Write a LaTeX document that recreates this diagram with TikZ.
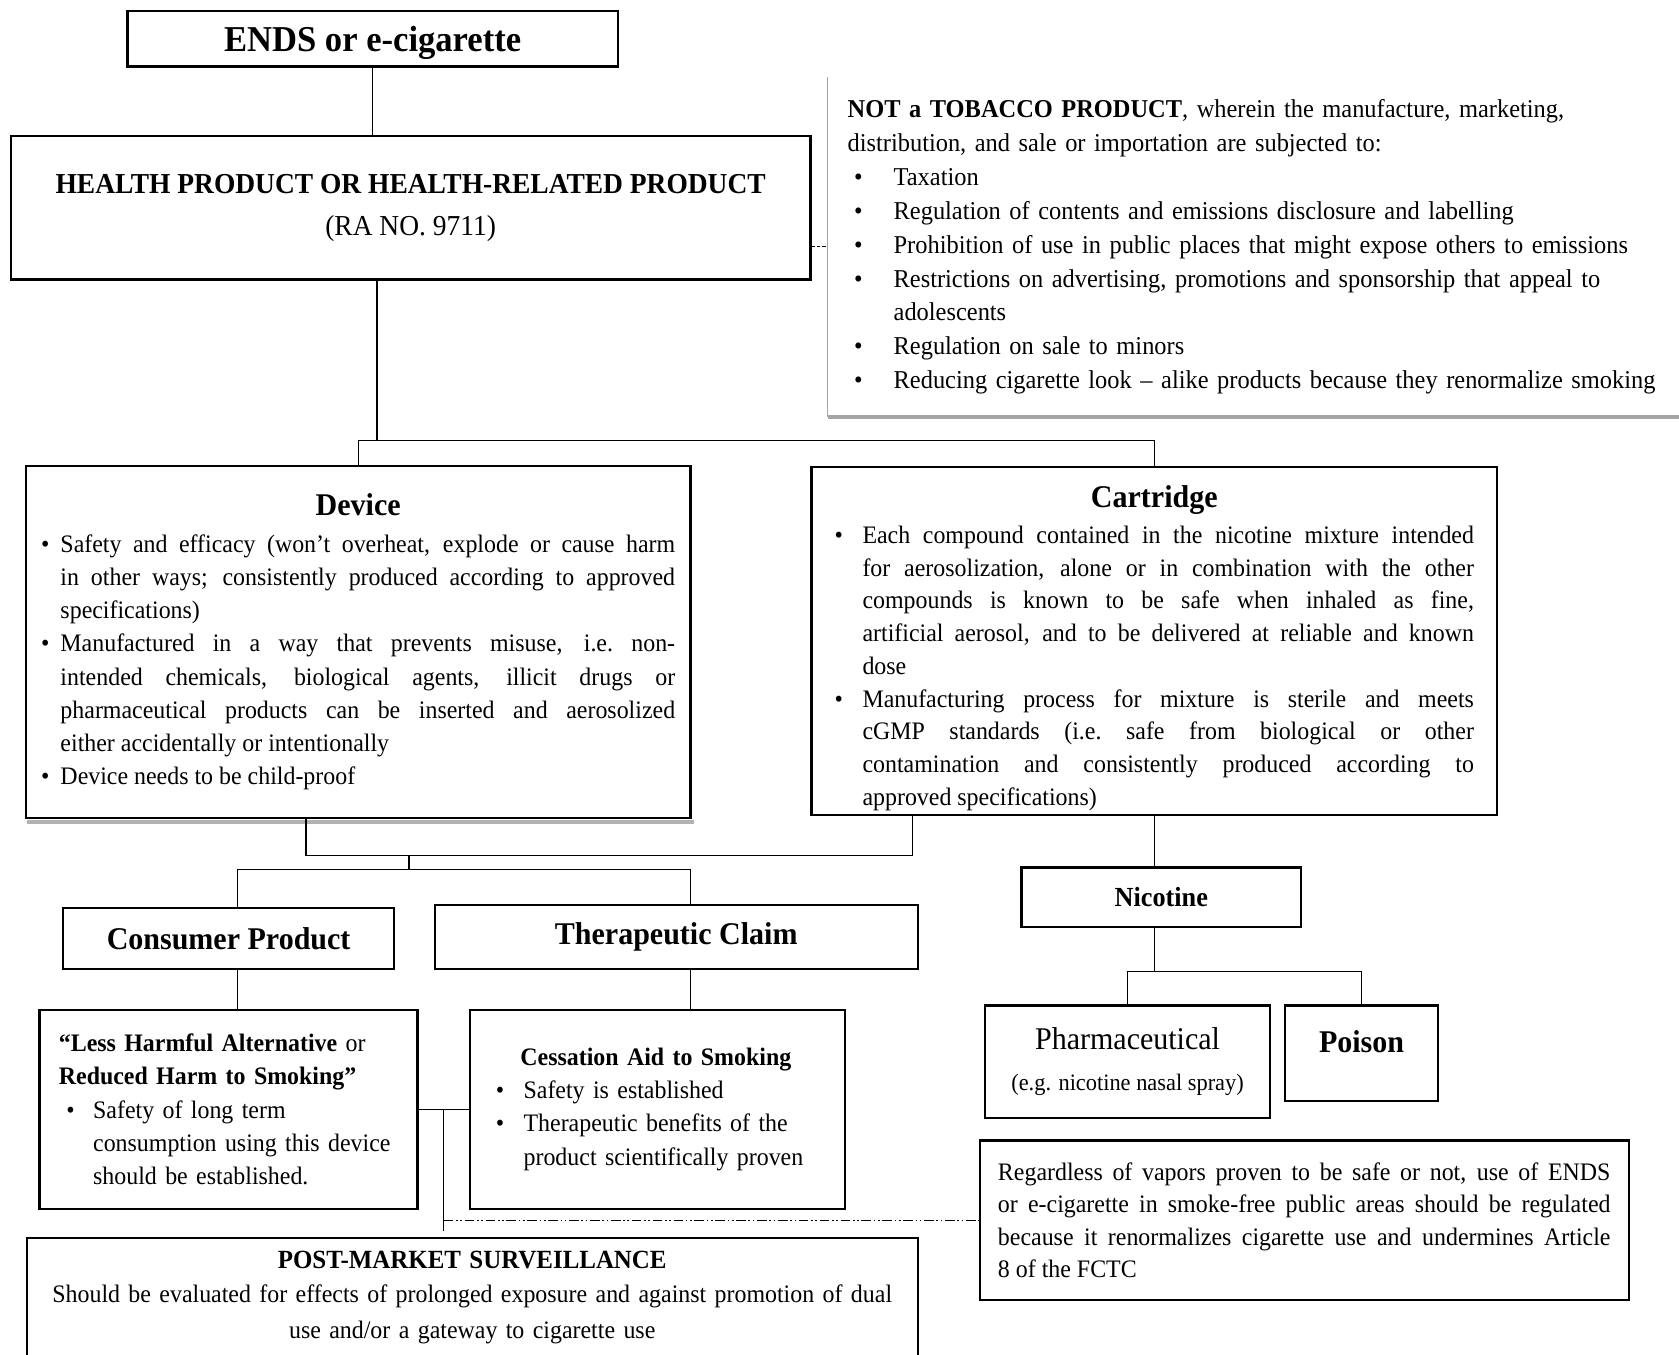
\documentclass[tikz,border=0pt]{standalone}
\usepackage{fontspec}
\setmainfont{Liberation Serif}[FakeStretch=0.95]
\usetikzlibrary{calc}
\setlength{\parindent}{0pt}
\newcommand{\fs}[2]{\fontsize{#1}{#2}\selectfont}
\newcommand{\bitem}[2][0pt]{\par\noindent\hangindent=#2\hangafter=1\hspace*{#1}\makebox[\dimexpr#2-#1\relax][l]{\textbullet}}

\begin{document}
\begin{tikzpicture}[x=1pt,y=-1pt,line width=1.2pt,
  box/.style={draw,fill=white,line width=2.2pt,inner sep=0pt,align=center},
  txt/.style={font=\fs{23.5}{31}},
  dashdot/.style={line width=1pt,dash pattern=on 9pt off 2.5pt on 1.5pt off 2.5pt on 1.5pt off 2.5pt}]
      \useasboundingbox (0,0) rectangle (1568,1265);
      \node (ends) [box,minimum width=458pt,minimum height=52pt,text depth=0pt,font=\bfseries\fs{34}{38}] at (348,36) {ENDS or e-cigarette};
      \node (health) [box,minimum width=747pt,minimum height=134pt,font=\fs{27}{39}] at (383.5,194) {{\bfseries HEALTH PRODUCT OR HEALTH-RELATED PRODUCT}\\{(RA NO. 9711)}};
      \node (nottob) [anchor=north west,inner xsep=18pt,inner ysep=0pt,minimum height=316pt,text width=790pt,align=left,font=\fs{24}{31.6}] at (773,72) {\textbf{NOT a TOBACCO PRODUCT}, wherein the manufacture, marketing,\newline
        distribution, and sale or importation are subjected to:
        \bitem[6pt]{43pt}Taxation
        \bitem[6pt]{43pt}Regulation of contents and emissions disclosure and labelling
        \bitem[6pt]{43pt}Prohibition of use in public places that might expose others to emissions
        \bitem[6pt]{43pt}Restrictions on advertising, promotions and sponsorship that appeal to\newline adolescents
        \bitem[6pt]{43pt}Regulation on sale to minors
        \bitem[6pt]{43pt}Reducing cigarette look – alike products because they renormalize smoking\par};
      \node (device) [box,minimum width=621pt,minimum height=329pt,text width=592pt,align=justify,txt] at (334.5,599.5) {{\centering\bfseries\fs{29.5}{34}Device\par}\vspace{3pt}
        \bitem{18pt}Safety and efficacy (won’t overheat, explode or cause harm\linebreak in other ways; consistently produced according to approved\linebreak specifications)
        \bitem{18pt}Manufactured in a way that prevents misuse, i.e.\ non-\linebreak intended chemicals, biological agents, illicit drugs or\linebreak pharmaceutical products can be inserted and aerosolized\linebreak either accidentally or intentionally
        \bitem{18pt}Device needs to be child-proof\par};
      \node (cart) [box,minimum width=640pt,minimum height=325pt,text width=597pt,align=justify,font=\fs{23.5}{30.6}] at (1078,598.5) {{\centering\bfseries\fs{29.5}{34}\rule{0pt}{34pt}Cartridge\par}\vspace{3pt}
        \bitem{26pt}Each compound contained in the nicotine mixture intended\linebreak for aerosolization, alone or in combination with the other\linebreak compounds is known to be safe when inhaled as fine,\linebreak artificial aerosol, and to be delivered at reliable and known\linebreak dose
        \bitem{26pt}Manufacturing process for mixture is sterile and meets\linebreak cGMP standards (i.e.\ safe from biological or other\linebreak contamination and consistently produced according to\linebreak approved specifications)\par};
      \node (consumer) [box,minimum width=309pt,minimum height=57pt,font=\bfseries\fs{29.5}{34}] at (213.5,876.5) {Consumer Product};
      \node (thera) [box,minimum width=451pt,minimum height=60pt,font=\bfseries\fs{29.5}{34}] at (631.5,875) {Therapeutic Claim};
      \node (less) [box,minimum width=353pt,minimum height=186pt,text width=317pt,align=left,txt] at (213.5,1036) {\textbf{“Less Harmful Alternative} or\newline \textbf{Reduced Harm to Smoking”}
        \bitem[7pt]{32pt}Safety of long term\newline consumption using this device\newline should be established.\par};
      \node (cess) [box,minimum width=350pt,minimum height=186pt,text width=302pt,align=left,txt] at (614,1036) {\hspace*{23pt}\textbf{Cessation Aid to Smoking}
        \bitem{26pt}Safety is established
        \bitem{26pt}Therapeutic benefits of the\newline product scientifically proven\par};
      \node (post) [box,minimum width=832pt,minimum height=112pt,text width=820pt,txt] at (441,1212) {{\fs{24.5}{31}\bfseries POST-MARKET SURVEILLANCE}\\ Should be evaluated for effects of prolonged exposure and against promotion of dual\\[3pt] use and/or a gateway to cigarette use};
      \node (nic) [box,minimum width=261pt,minimum height=56pt,font=\bfseries\fs{25.8}{30}] at (1084.5,838) {Nicotine};
      \node (pharma) [box,minimum width=266pt,minimum height=105pt,font=\fs{29.5}{34}] at (1053,991.5) {Pharmaceutical\\[4pt]{\fs{22}{26}(e.g. nicotine nasal spray)}};
      \node (poison) [box,minimum width=143pt,minimum height=89pt,text depth=21pt,font=\bfseries\fs{29.5}{34}] at (1271.5,983.5) {Poison};
      \node (regard) [box,minimum width=606pt,minimum height=149pt,text width=572pt,align=justify,font=\fs{23.5}{30.3}] at (1218,1139.5) {Regardless of vapors proven to be safe or not, use of ENDS\linebreak or e-cigarette in smoke-free public areas should be regulated\linebreak because it renormalizes cigarette use and undermines Article\linebreak 8 of the FCTC\par};
      \draw[gray!70,line width=0.8pt] (nottob.north west) -- (nottob.south west);
      \draw[gray!70,line width=3.5pt] (nottob.south west) -- (nottob.south east);
      \draw[gray!60,line width=3pt] ([shift={(2pt,-2.6pt)}]device.south west) -- ([shift={(2pt,-2.6pt)}]device.south east);
      \draw[densely dashed,line width=0.8pt] (health.east |- nottob.west) -- (nottob.west);
      \draw (ends.south) -- (ends.south |- health.north);
      \coordinate (j1) at ($(health.south)+(-31.5,149)$);
      \draw (health.south -| j1) -- (j1);
      \draw (device.north) |- (j1) -| (cart.north);
      \coordinate (j2) at ($(device.south)+(47.5,34)$);
      \coordinate (j3) at ($(j2)+(0,13)$);
      \draw ($(device.south west)!0.422!(device.south east)$) |- (j2) -| ($(cart.south west)!0.148!(cart.south east)$);
      \draw (j2) -- (j3);
      \draw ([xshift=8.5pt]consumer.north) |- (j3) -| ([xshift=13.5pt]thera.north);
      \draw ([xshift=8.5pt]consumer.south) -- ([xshift=8.5pt]consumer.south |- less.north);
      \draw ([xshift=13.5pt]thera.south) -- ([xshift=13.5pt]thera.south |- cess.north);
      \draw (less.east) -- (cess.west);
      \coordinate (j4) at ($(less.east)!0.5!(cess.west)$);
      \draw (j4) -- ([yshift=5pt]j4 |- post.north);
      \draw[dashdot] (j4 |- regard.west) -- (regard.west);
      \draw (cart.south) -- (cart.south |- nic.north);
      \coordinate (j5) at ($(cart.south |- nic.south)+(0,40)$);
      \draw (cart.south |- nic.south) -- (j5);
      \draw (pharma.north) |- (j5) -| (poison.north);
    \end{tikzpicture}
\end{document}
